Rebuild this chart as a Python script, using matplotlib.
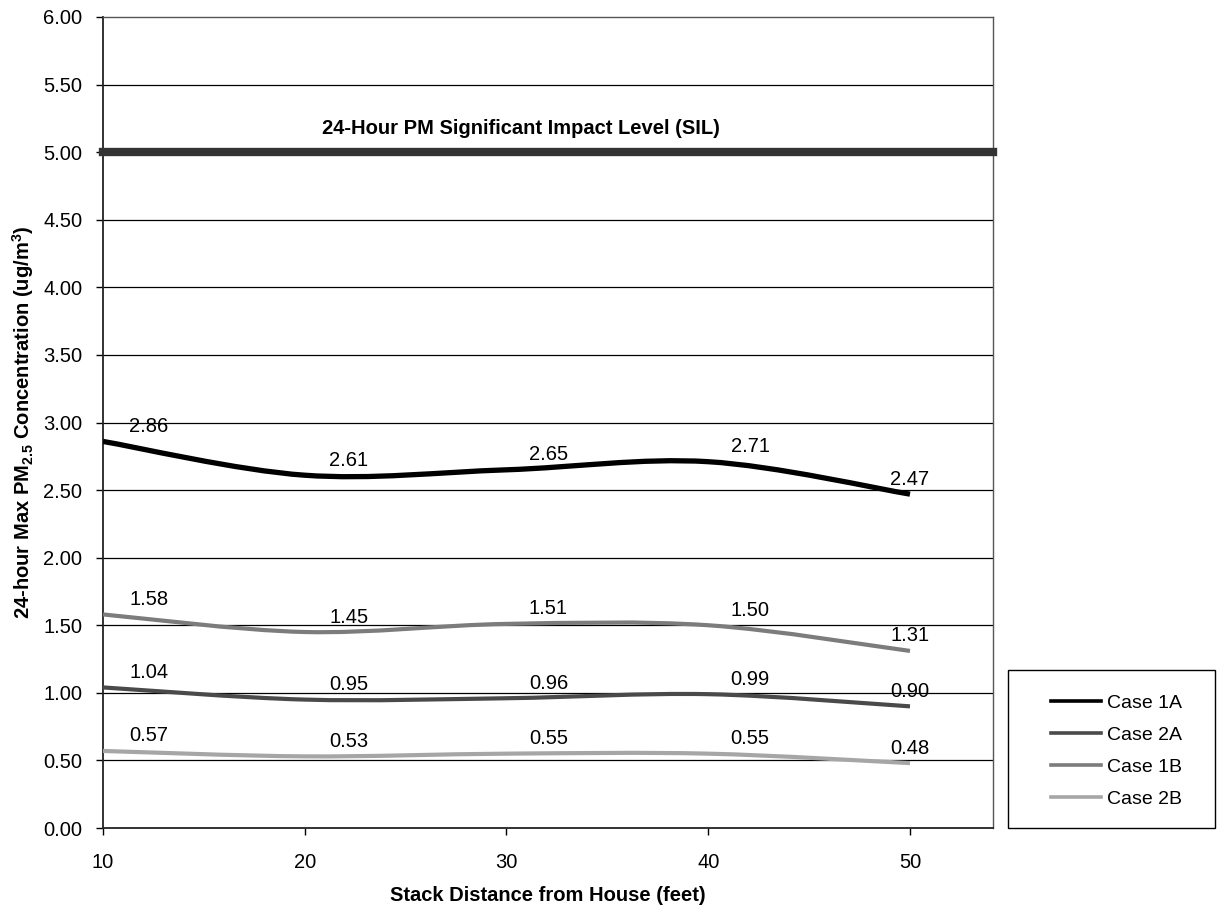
import matplotlib
matplotlib.use("Agg")
import matplotlib.pyplot as plt
from matplotlib.path import Path
from matplotlib.patches import PathPatch, Rectangle
from matplotlib.lines import Line2D

plt.rcParams['font.family'] = ['Liberation Sans', 'DejaVu Sans']
plt.rcParams['mathtext.fontset'] = 'custom'
plt.rcParams['mathtext.bf'] = 'Liberation Sans:bold'
plt.rcParams['mathtext.rm'] = 'Liberation Sans:bold'
plt.rcParams['mathtext.default'] = 'bf'

# stack distance (feet) and 24-hour max PM2.5 results
distance = [10, 20, 30, 40, 50]
case_1a = [2.86, 2.61, 2.65, 2.71, 2.47]
case_2a = [1.04, 0.95, 0.96, 0.99, 0.90]
case_1b = [1.58, 1.45, 1.51, 1.50, 1.31]
case_2b = [0.57, 0.53, 0.55, 0.55, 0.48]
series_names = ['Case 1A', 'Case 2A', 'Case 1B', 'Case 2B']
sil_level = 5.0
sil_label = '24-Hour PM Significant Impact Level (SIL)'
y_ticks = [0.0, 0.5, 1.0, 1.5, 2.0, 2.5, 3.0, 3.5, 4.0, 4.5, 5.0, 5.5, 6.0]

series = [case_1a, case_2a, case_1b, case_2b]
colors = ['#000000', '#4a4a4a', '#7c7c7c', '#a6a6a6']
widths = [3.8, 3.0, 3.0, 3.0]


def smooth_path(x, y, t=1.0 / 6.0):
    # Excel-style smoothed line: cubic bezier segments through every point
    n = len(x)
    verts = [(x[0], y[0])]
    codes = [Path.MOVETO]
    for i in range(n - 1):
        p0 = i - 1 if i > 0 else i
        p3 = i + 2 if i + 2 < n else i + 1
        c1 = (x[i] + (x[i + 1] - x[p0]) * t, y[i] + (y[i + 1] - y[p0]) * t)
        c2 = (x[i + 1] - (x[p3] - x[i]) * t, y[i + 1] - (y[p3] - y[i]) * t)
        verts += [c1, c2, (x[i + 1], y[i + 1])]
        codes += [Path.CURVE4] * 3
    return Path(verts, codes)


fig = plt.figure(figsize=(12.18, 9.11), dpi=100)
ax = fig.add_axes([103 / 1218, 83 / 911, 890 / 1218, 811 / 911])

ax.set_xlim(10, 10 + 890 / 201.75 * 10)
ax.set_ylim(0, 6)
ax.set_xticks(distance)
ax.set_yticks(y_ticks)
ax.set_yticklabels(['%.2f' % v for v in y_ticks])
ax.tick_params(axis='both', direction='out', length=5, width=1, labelsize=14.5, colors='black')
ax.tick_params(axis='y', pad=10)
ax.tick_params(axis='x', pad=13)

for v in y_ticks[1:-1]:
    ax.axhline(v, color='black', lw=0.9, zorder=1)

for s in ['left', 'bottom']:
    ax.spines[s].set_linewidth(1.3)
    ax.spines[s].set_color('#222222')
for s in ['top', 'right']:
    ax.spines[s].set_linewidth(1.0)
    ax.spines[s].set_color('#555555')

# significance threshold
ax.plot([10, ax.get_xlim()[1]], [sil_level, sil_level], color='#333333', lw=6,
        solid_capstyle='projecting', clip_on=False, zorder=3)
ax.annotate(sil_label, xy=(0.47, sil_level), xycoords=('axes fraction', 'data'),
            xytext=(0, 24), textcoords='offset pixels', ha='center', va='center',
            fontsize=14.5, fontweight='bold')

label_dx = [46, 44, 42, 42, 0]
label_dy = 15
for vals, c, w in zip(series, colors, widths):
    ax.add_patch(PathPatch(smooth_path(distance, vals), facecolor='none', edgecolor=c,
                           lw=w, capstyle='butt', zorder=4))
    for i, (xv, yv) in enumerate(zip(distance, vals)):
        ax.annotate('%.2f' % yv, xy=(xv, yv), xytext=(label_dx[i], label_dy),
                    textcoords='offset pixels', ha='center', va='center', fontsize=14.5,
                    zorder=5)

ax.set_xlabel('Stack Distance from House (feet)', fontsize=14.5, fontweight='bold')
ax.xaxis.set_label_coords(0.5, -0.072)
ax.set_ylabel(r'24-hour Max PM$_{2.5}$ Concentration (ug/m$^{3}$)', fontsize=14.5,
              fontweight='bold')
ax.yaxis.set_label_coords(-0.075, 0.5)

# legend with its own box
handles = [Line2D([], [], color=c, lw=2.6) for c in colors]
fig.patches.append(Rectangle((1008 / 1218, 83 / 911), 207 / 1218, 158 / 911,
                             transform=fig.transFigure, facecolor='white',
                             edgecolor='black', lw=1.0))
fig.legend(handles, series_names, loc='center left',
           bbox_to_anchor=(1033 / 1218, 160 / 911), frameon=False, fontsize=14,
           handlelength=2.6, handletextpad=0.3, labelspacing=0.75)

fig.savefig('out.png', dpi=100, facecolor='white')
